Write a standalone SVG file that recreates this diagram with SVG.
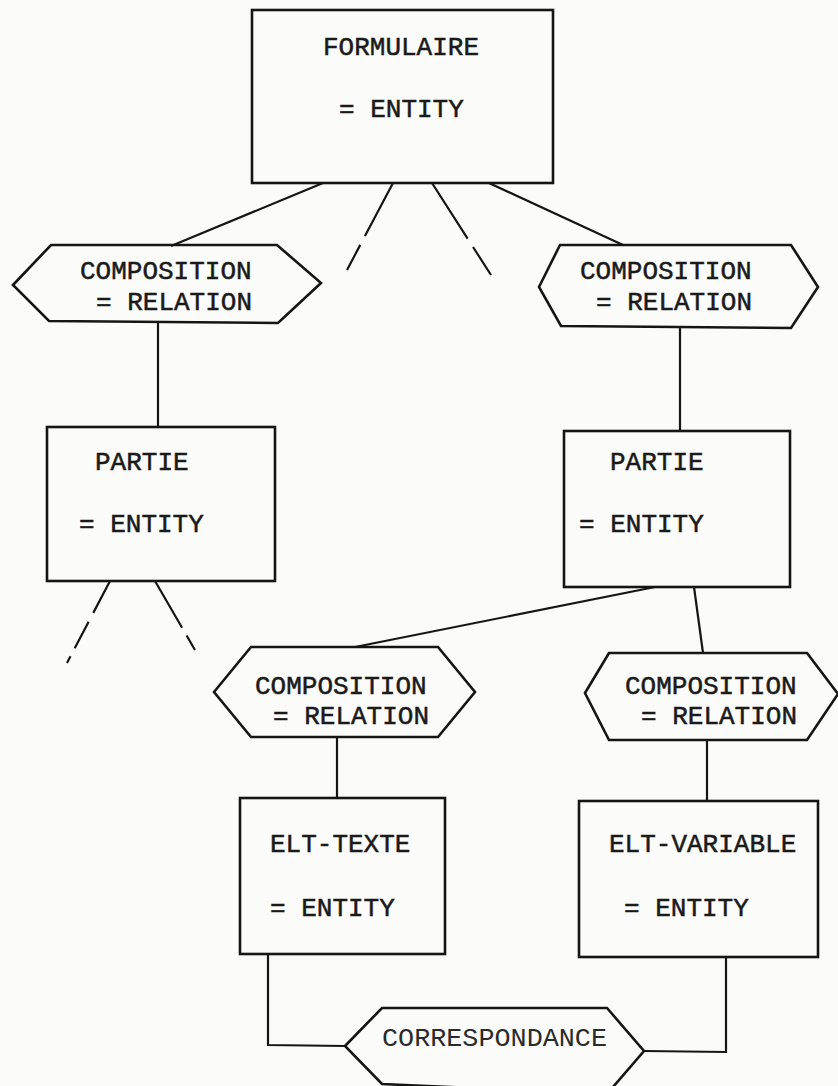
<svg xmlns="http://www.w3.org/2000/svg" width="838" height="1086" viewBox="0 0 838 1086">
<style>
  .bg { fill: #fbfbf9; }
  .box { fill: none; stroke: #151515; stroke-width: 2.6; }
  .hex { fill: none; stroke: #151515; stroke-width: 2.6; stroke-linejoin: miter; }
  .ln { fill: none; stroke: #151515; stroke-width: 2.2; }
  .dash { fill: none; stroke: #151515; stroke-width: 2.2; }
  .t { font-family: "Liberation Mono", "Courier New", monospace; font-size: 26px; fill: #1a1a1a; stroke: #1a1a1a; stroke-width: 0.5; }
  .tl { font-family: "Liberation Mono", "Courier New", monospace; font-size: 26px; fill: #2a2a2a; }
</style>
<rect class="bg" x="0" y="0" width="838" height="1086"/>

<g id="connectors">
  <line class="ln" x1="323" y1="183" x2="171" y2="246"/>
  <line class="ln" x1="489" y1="183" x2="623" y2="245"/>
  <line class="dash" x1="393" y1="183" x2="347" y2="270" stroke-dasharray="60 10 40"/>
  <line class="dash" x1="432" y1="183" x2="491" y2="275" stroke-dasharray="66 10 40"/>
  <line class="ln" x1="158" y1="322" x2="158" y2="427"/>
  <line class="ln" x1="680" y1="327" x2="680" y2="431"/>
  <line class="dash" x1="110" y1="581" x2="67" y2="663" stroke-dasharray="36 10 30 9 20"/>
  <line class="dash" x1="155" y1="581" x2="195" y2="650" stroke-dasharray="54 9 30"/>
  <line class="ln" x1="655" y1="587" x2="355" y2="647"/>
  <line class="ln" x1="694" y1="587" x2="703" y2="653"/>
  <line class="ln" x1="337" y1="737" x2="337" y2="798"/>
  <line class="ln" x1="707" y1="740" x2="707" y2="801"/>
  <polyline class="ln" points="268,954 268,1045 345,1046"/>
  <polyline class="ln" points="726,957 726,1052 644,1051"/>
</g>

<g id="formulaire">
  <rect class="box" x="252" y="10" width="301" height="173"/>
  <text class="t" x="323" y="55">FORMULAIRE</text>
  <text class="t" x="339" y="117">= ENTITY</text>
</g>

<g id="composition-1">
  <polygon class="hex" points="13,285 51,245 277,245 321,283 278,323 49,321"/>
  <text class="t" x="80" y="279">COMPOSITION</text>
  <text class="t" x="96" y="310">= RELATION</text>
</g>

<g id="composition-2">
  <polygon class="hex" points="539,287 560,245 791,245 818,287 791,328 561,326"/>
  <text class="t" x="580" y="279">COMPOSITION</text>
  <text class="t" x="596" y="310">= RELATION</text>
</g>

<g id="partie-1">
  <rect class="box" x="47" y="427" width="228" height="154"/>
  <text class="t" x="95" y="470">PARTIE</text>
  <text class="t" x="79" y="532">= ENTITY</text>
</g>

<g id="partie-2">
  <rect class="box" x="564" y="431" width="226" height="156"/>
  <text class="t" x="610" y="470">PARTIE</text>
  <text class="t" x="579" y="532">= ENTITY</text>
</g>

<g id="composition-3">
  <polygon class="hex" points="214,692 251,647 438,647 475,692 438,737 251,737"/>
  <text class="t" x="255" y="694">COMPOSITION</text>
  <text class="t" x="273" y="724">= RELATION</text>
</g>

<g id="composition-4">
  <polygon class="hex" points="585,693 609,653 807,653 838,694 807,740 609,740"/>
  <text class="t" x="625" y="694">COMPOSITION</text>
  <text class="t" x="641" y="724">= RELATION</text>
</g>

<g id="elt-texte">
  <rect class="box" x="240" y="798" width="205" height="156"/>
  <text class="t" x="270" y="852">ELT-TEXTE</text>
  <text class="t" x="270" y="916">= ENTITY</text>
</g>

<g id="elt-variable">
  <rect class="box" x="579" y="801" width="239" height="156"/>
  <text class="t" x="609" y="852">ELT-VARIABLE</text>
  <text class="t" x="624" y="916">= ENTITY</text>
</g>

<g id="correspondance">
  <polygon class="hex" points="345,1046 382,1008 607,1008 644,1051 607,1094 382,1084"/>
  <text class="tl" x="382" y="1046" textLength="225" lengthAdjust="spacingAndGlyphs">CORRESPONDANCE</text>
</g>
</svg>
